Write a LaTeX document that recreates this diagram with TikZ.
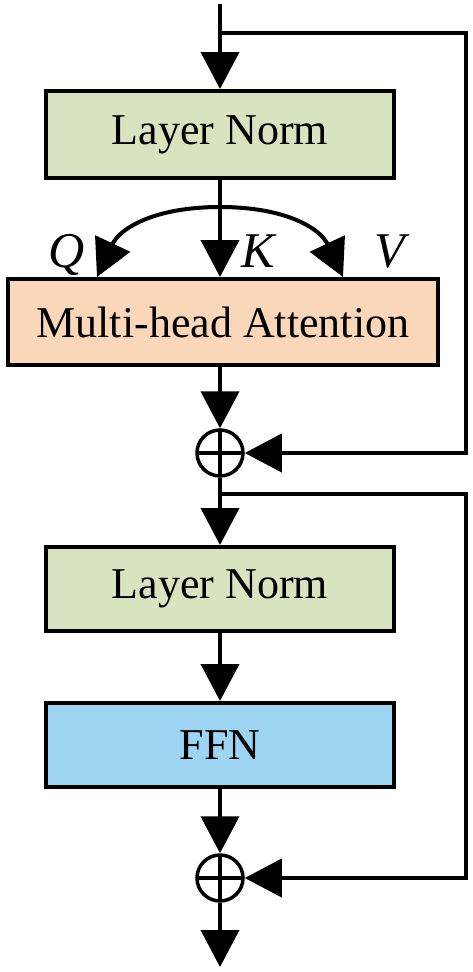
\documentclass[tikz,border=0pt]{standalone}
\usepackage{fontspec}
\setmainfont{Liberation Serif}
\usetikzlibrary{arrows.meta,calc}
\definecolor{lngreen}{RGB}{216,228,191}
\definecolor{mhapeach}{RGB}{250,215,184}
\definecolor{ffnblue}{RGB}{157,212,241}
\begin{document}
\begin{tikzpicture}[x=1pt,y=-1pt,line width=4pt,
  >={Triangle[length=37pt,width=38pt]},
  blockbox/.style={draw,rectangle,inner sep=0pt,font=\fontsize{44}{50}\selectfont},
  addnode/.style={draw,circle,inner sep=0pt,minimum size=46pt,line width=3.5pt,
    path picture={\draw[line width=3.5pt] (path picture bounding box.north) -- (path picture bounding box.south)
      (path picture bounding box.west) -- (path picture bounding box.east);}},
  qkv/.style={anchor=base,font=\fontsize{50}{56}\selectfont\itshape}]
\useasboundingbox (0,0) rectangle (472,972);
% nodes
\node[blockbox,fill=lngreen,minimum width=348pt,minimum height=87pt] (ln1) at (220,134.5) {Layer Norm};
\node[blockbox,fill=mhapeach,minimum width=430pt,minimum height=86pt] (mha) at (223,322) {Multi-head Attention};
\node[addnode] (add1) at (220,453) {};
\node[blockbox,fill=lngreen,minimum width=348pt,minimum height=84pt] (ln2) at (220,589) {Layer Norm};
\node[blockbox,fill=ffnblue,minimum width=348pt,minimum height=84pt] (ffn) at (220,745) {FFN};
\node[addnode] (add2) at (220,878) {};
\node[qkv] (q) at (67,267) {Q};
\node[qkv] (k) at (258,267) {K};
\node[qkv] (v) at (390,267) {V};
% coordinates
\coordinate (in) at (220,4);
\coordinate (b1) at (220,33);
\coordinate (c1) at (466,33);
\coordinate (split) at (220,207);
\coordinate (qtip) at (97,277);
\coordinate (vtip) at (343,277);
\coordinate (b2) at (220,494);
\coordinate (c2) at (466,494);
\coordinate (out) at (220,967);
% main flow
\draw[->] (in) -- (ln1.north);
\draw[->] (ln1.south) -- (ln1.south |- mha.north);
\draw[->] (split) .. controls (155,207) and (120,228) .. (qtip);
\draw[->] (split) .. controls (285,207) and (320,228) .. (vtip);
\draw[->] (add1 |- mha.south) -- (add1.north);
\draw[->] (add1.south) -- (ln2.north);
\draw[->] (ln2.south) -- (ffn.north);
\draw[->] (ffn.south) -- (add2.north);
\draw[->] (add2.south) -- (out);
% residual connections
\draw[->] (b1) -- (c1) |- (add1.east);
\draw[->] (b2) -- (c2) |- (add2.east);
\end{tikzpicture}
\end{document}
